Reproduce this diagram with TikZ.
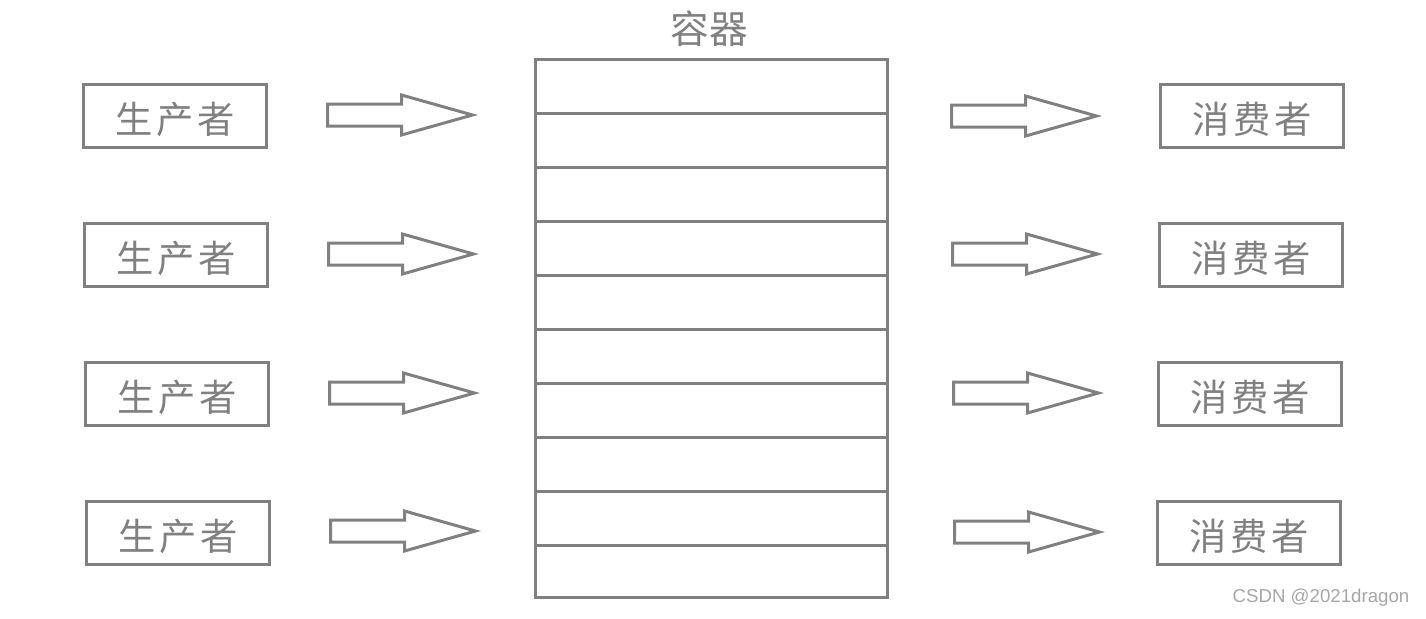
\documentclass[tikz,border=0pt]{standalone}
\usepackage{fontspec}
\newfontfamily\cjk[LetterSpace=10]{Noto Sans CJK SC}
\newfontfamily\cjklabel{Noto Sans CJK SC}
\newfontfamily\marksans{Liberation Sans}
\usetikzlibrary{calc}

% block arrow, starting at the left end of its shaft
\newcommand\blkarrow[2]{%
  \coordinate (#1) at #2;
  \draw[blk] (#1) ++(1.5,-11) -- ++(74,0) -- ++(0,-9) -- ++(71,20) -- ++(-71,20) -- ++(0,-9) -- ++(-74,0) -- cycle;}

\begin{document}
\begin{tikzpicture}[x=0.75pt, y=-0.75pt,
    role/.style={draw=gray, line width=2.25pt, minimum width=137.25pt, minimum height=47.25pt, inner sep=0pt, text height=29pt, text depth=3pt, text=gray, font=\cjk\fontsize{28}{30}\selectfont},
    store/.style={draw=gray, line width=2.25pt, minimum width=264pt, minimum height=404pt, inner sep=0pt, outer sep=0pt},
    cell/.style={draw=gray, line width=2.25pt},
    blk/.style={draw=gray, line width=2.25pt, line join=miter}
]
\useasboundingbox (0,0) rectangle (1426,618);

% producers on the left
\node[role] (p1) at (175,116) {生产者};
\node[role] (p2) at (176,255) {生产者};
\node[role] (p3) at (177,394) {生产者};
\node[role] (p4) at (178,533) {生产者};

% container in the middle
\node[store] (buf) at (711,328.5) {};
\foreach \k in {1,...,9}
  \draw[cell] ($(buf.north west)+(0,54*\k)$) -- ($(buf.north east)+(0,54*\k)$);
\node[text=gray, font=\cjklabel\fontsize{29}{30}\selectfont] (buflabel) at (709,29) {容器};

% consumers on the right
\node[role] (c1) at (1252,116) {消费者};
\node[role] (c2) at (1251,255) {消费者};
\node[role] (c3) at (1250,394) {消费者};
\node[role] (c4) at (1249,533) {消费者};

% arrows
\blkarrow{pa1}{(326,115)}
\blkarrow{pa2}{(327,254)}
\blkarrow{pa3}{(328,393)}
\blkarrow{pa4}{(329,531)}
\blkarrow{ca1}{(950,116)}
\blkarrow{ca2}{(951,254)}
\blkarrow{ca3}{(952,393)}
\blkarrow{ca4}{(953,532)}

% watermark
\node[text=gray!70, font=\marksans\fontsize{14}{16}\selectfont] (mark) at (1321,598) {CSDN @2021dragon};
\end{tikzpicture}
\end{document}
